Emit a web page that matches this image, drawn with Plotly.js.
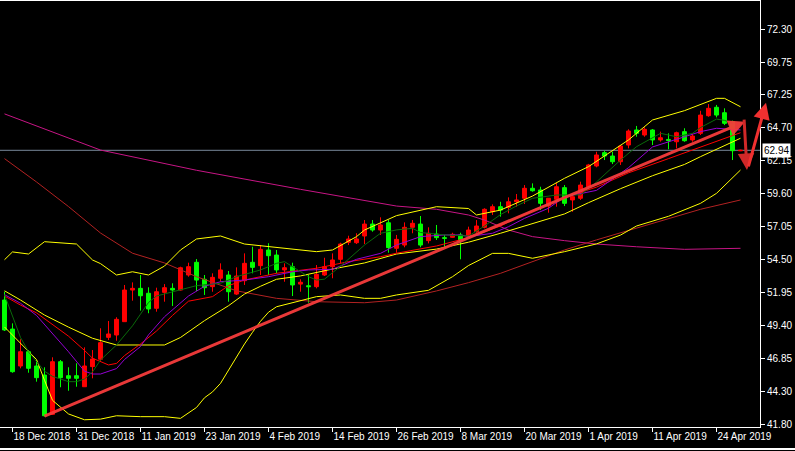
<!DOCTYPE html>
<html>
<head>
<meta charset="utf-8">
<script src="https://cdn.plot.ly/plotly-3.0.1.min.js"></script>
<style>
  html, body { margin: 0; padding: 0; background: #000; }
  #chart { width: 795px; height: 451px; }
</style>
</head>
<body>
<div id="chart"></div>
<script>
// ---- Daily bars (trading dates) ----
const dates = [
  '2018-12-17','2018-12-18','2018-12-19','2018-12-20','2018-12-21','2018-12-24','2018-12-26','2018-12-27','2018-12-28','2018-12-31',
  '2019-01-02','2019-01-03','2019-01-04','2019-01-07','2019-01-08','2019-01-09','2019-01-10','2019-01-11','2019-01-14','2019-01-15',
  '2019-01-16','2019-01-17','2019-01-18','2019-01-21','2019-01-22','2019-01-23','2019-01-24','2019-01-25','2019-01-28','2019-01-29',
  '2019-01-30','2019-01-31','2019-02-01','2019-02-04','2019-02-05','2019-02-06','2019-02-07','2019-02-08','2019-02-11','2019-02-12',
  '2019-02-13','2019-02-14','2019-02-15','2019-02-18','2019-02-19','2019-02-20','2019-02-21','2019-02-22','2019-02-25','2019-02-26',
  '2019-02-27','2019-02-28','2019-03-01','2019-03-04','2019-03-05','2019-03-06','2019-03-07','2019-03-08','2019-03-11','2019-03-12',
  '2019-03-13','2019-03-14','2019-03-15','2019-03-18','2019-03-19','2019-03-20','2019-03-21','2019-03-22','2019-03-25','2019-03-26',
  '2019-03-27','2019-03-28','2019-03-29','2019-04-01','2019-04-02','2019-04-03','2019-04-04','2019-04-05','2019-04-08','2019-04-09',
  '2019-04-10','2019-04-11','2019-04-12','2019-04-15','2019-04-16','2019-04-17','2019-04-18','2019-04-22','2019-04-23','2019-04-24',
  '2019-04-25','2019-04-26','2019-04-29'
];
const openP = [51.39,49.15,46.30,47.40,46.30,45.60,42.57,46.63,45.55,45.55,
  44.70,46.25,46.82,48.51,48.69,49.72,52.16,52.29,51.91,50.75,
  51.98,52.29,52.16,53.32,54.30,52.99,52.42,53.07,53.32,51.85,
  52.88,54.30,54.04,55.25,54.86,53.71,53.96,52.62,52.49,52.42,
  53.32,53.96,54.53,55.84,55.81,56.33,57.25,56.79,57.35,55.38,
  55.63,57.00,57.25,55.97,56.48,56.20,56.23,56.41,56.33,56.66,
  57.00,58.20,58.59,58.54,58.97,59.24,60.01,59.88,58.64,59.16,
  60.06,59.11,59.24,60.13,61.73,62.76,62.50,62.06,63.35,64.51,
  64.12,64.51,63.74,63.78,63.60,64.38,63.74,64.25,65.61,66.26,
  65.84,65.15,62.90];
const highP = [52.03,49.59,48.36,47.53,46.76,46.20,46.97,46.76,46.20,46.51,
  47.74,47.53,49.21,49.77,50.06,52.55,52.75,53.32,52.37,52.34,
  52.62,52.68,53.96,54.27,54.55,53.32,53.45,54.22,53.63,53.91,
  54.99,55.50,55.63,55.77,55.25,54.22,54.27,52.99,53.32,54.09,
  54.65,54.99,55.81,56.35,56.54,57.56,57.56,57.77,57.56,56.41,
  57.38,57.56,57.87,57.00,57.18,56.41,56.58,56.58,57.05,57.56,
  58.47,58.77,58.97,59.31,59.57,60.26,60.39,60.13,59.24,60.44,
  60.26,59.65,60.52,61.89,62.83,62.91,62.83,63.35,64.56,64.82,
  64.72,64.58,64.38,64.25,64.38,64.64,64.25,65.99,66.51,66.44,
  66.18,65.23,62.99];
const lowP = [49.00,45.78,46.12,45.78,45.09,42.39,42.52,44.66,44.39,44.70,
  44.68,45.35,46.63,48.30,48.25,49.72,51.34,50.57,50.37,50.49,
  51.26,50.93,52.11,53.19,52.08,51.78,52.03,52.80,51.26,51.78,
  52.55,53.45,53.32,53.32,53.45,52.80,51.70,52.03,51.18,52.29,
  53.24,53.07,54.22,55.63,55.71,55.71,56.66,56.41,55.04,55.04,
  55.46,56.54,55.46,55.76,56.02,55.50,56.20,54.53,56.28,56.58,
  56.92,57.95,57.82,58.08,58.59,58.80,59.75,58.33,58.13,58.59,
  58.64,58.20,59.11,60.08,61.63,62.19,61.88,61.81,63.09,63.99,
  63.99,63.35,63.61,63.02,63.09,63.60,63.60,64.12,65.53,65.48,
  64.89,62.19,62.88];
const closeP = [49.08,45.86,47.40,46.12,45.40,42.46,46.63,45.40,45.35,45.35,
  46.30,46.84,48.10,48.77,49.90,52.16,52.29,51.72,50.70,52.03,
  52.34,52.16,53.88,53.96,52.93,52.34,53.14,53.71,52.03,53.24,
  54.22,53.91,55.30,54.81,53.71,53.88,52.55,52.76,52.42,53.37,
  53.96,54.48,55.71,56.10,56.10,57.25,56.79,57.18,55.43,56.07,
  57.00,57.31,55.63,56.54,56.20,56.15,56.46,55.97,56.79,57.10,
  58.39,58.59,58.33,58.97,59.11,60.01,59.82,58.85,59.24,60.13,
  58.85,59.36,60.26,61.81,62.58,62.50,62.06,63.27,64.43,64.25,
  64.56,63.74,63.91,63.70,64.30,63.68,64.04,65.66,66.18,65.66,
  65.02,62.91,62.94];

// ---- Indicator lines (bar index, price) ----
const fastMaIdx = [0,1,2,3,5,6,8,9,10,11,12,14,16,17,18,19,21,24,27,29,32,34,35,36,38,39,40,42,45,47,49,51,52,55,58,60,62,64,66,69,72,74,77,79,81,82,84,85,86,87,88,89,90,91];
const fastMaVal = [51.8,50.2,48.5,47.4,45.9,45.5,45.09,45.09,45.3,45.84,46.76,47.92,49.4,50.3,51.2,51.7,52.0,52.5,52.68,53.19,53.71,54.22,54.35,53.96,53.19,52.93,53.0,54.0,55.63,56.54,56.8,56.92,56.6,56.41,56.33,57.1,57.98,58.65,59.24,59.49,59.5,60.5,62.19,63.22,63.87,64.25,63.99,64.1,64.25,64.7,65.0,65.35,65.25,65.02];

const violetMaIdx = [0,2,4,6,8,10,11,12,14,15,17,18,20,23,25,27,30,33,36,38,41,44,47,49,52,55,57,58,61,63,65,68,70,74,78,81,83,87,89,92];
const violetMaVal = [51.8,51.14,50.2,48.8,47.4,45.9,45.68,45.68,46.1,46.8,47.8,48.7,50.1,51.7,52.45,52.8,52.93,53.19,53.57,53.71,53.76,54.53,54.99,55.63,56.28,56.41,56.41,56.28,56.54,57.05,57.69,58.47,59.35,59.85,61.6,63.2,63.6,64.38,64.64,64.51];

const redMaIdx = [0,2,4,6,8,10,11,13,14,15,17,19,21,23,26,28,30,34,39,43,47,49,54,58,62,66,70,74,78,83,87,92];
const redMaVal = [51.7,51.0,50.4,49.5,48.6,47.5,46.9,46.38,46.5,47.1,48.0,49.0,50.2,51.3,51.65,52.5,52.93,53.45,53.84,54.35,54.73,55.0,55.56,56.2,57.1,58.3,59.3,60.1,61.2,62.3,63.2,64.3];

const brownMaIdx = [0,4,8,12,16,20,24,29,34,39,45,49,54,58,62,66,70,74,79,83,87,92];
const brownMaVal = [62.3,60.5,58.6,56.56,55.0,54.25,53.19,52.1,51.52,51.26,51.18,51.39,52.09,52.73,53.45,54.35,55.25,56.03,56.92,57.69,58.39,59.11];

const slowMaIdx = [0,12,24,37,49,54,58,60,63,66,70,74,79,85,92];
const slowMaVal = [65.75,62.96,61.4,59.93,58.64,58.39,57.95,57.56,56.79,56.28,55.97,55.71,55.50,55.30,55.38];

const bbUpperIdx = [0,1,3,5,9,11,12,14,16,18,20,22,24,27,30,35,39,41,44,45,49,54,58,59,62,66,70,73,78,81,85,89,90,92];
const bbUpperVal = [54.5,55.1,54.94,55.89,55.71,54.48,54.2,53.32,53.57,53.32,54.01,55.25,56.10,56.33,55.71,55.38,55.12,55.25,56.28,56.79,57.9,58.59,58.45,57.95,58.33,59.41,60.78,61.68,63.74,65.28,66.0,66.95,66.95,66.3];

const bbMidIdx = [0,2,5,8,11,14,17,20,22,25,28,30,32,34,37,41,45,49,54,58,62,66,70,73,77,81,85,87,89,92];
const bbMidVal = [52.1,51.39,50.23,49.3,48.44,47.92,47.92,47.92,48.5,49.8,50.95,51.85,52.45,52.99,53.25,53.78,54.25,54.94,55.32,55.85,56.54,57.31,58.03,58.9,59.98,60.98,61.85,62.45,63.02,63.87];

const bbLowerIdx = [0,4,5,6,8,10,12,14,17,20,22,24,25,26,27,28,29,30,31,32,33,34,39,42,45,47,49,53,56,58,61,63,66,68,70,74,77,79,83,87,89,92];
const bbLowerVal = [49.31,46.8,45.2,43.65,42.6,42.15,42.2,42.46,42.39,42.39,42.26,43.1,43.85,44.3,44.96,46.0,47.0,48.0,48.9,49.75,50.45,50.87,51.65,51.78,51.52,51.52,51.78,52.14,53.19,54.05,54.99,54.99,54.61,54.86,55.12,55.72,56.4,57.1,57.85,58.85,59.62,61.42];

// ---- Drawn objects ----
const bidPrice = 62.94;
const trendX = [4.81, 92.56];
const trendY = [42.39, 65.15];
const zigX = [92.44, 92.81, 92.94, 95.19];
const zigY = [65.43, 61.42, 61.58, 66.61];

// ---- Axis labels ----
const yTicks = [72.30, 69.75, 67.25, 64.70, 62.15, 59.60, 57.05, 54.50, 51.95, 49.40, 46.85, 44.30, 41.80];
const xLabelDates = ['2018-12-18','2018-12-31','2019-01-11','2019-01-23','2019-02-04','2019-02-14','2019-02-26','2019-03-08','2019-03-20','2019-04-01','2019-04-11','2019-04-24'];
const xLabelText = ['18 Dec 2018','31 Dec 2018','11 Jan 2019','23 Jan 2019','4 Feb 2019','14 Feb 2019','26 Feb 2019','8 Mar 2019','20 Mar 2019','1 Apr 2019','11 Apr 2019','24 Apr 2019'];

const barIdx = dates.map((d, i) => i);
const xTickVals = xLabelDates.map(d => dates.indexOf(d));

function lineTrace(xs, ys, color) {
  return { type: 'scatter', mode: 'lines', x: xs, y: ys, line: { color: color, width: 1 }, hoverinfo: 'skip' };
}

const traces = [
  lineTrace(slowMaIdx, slowMaVal, '#C71585'),
  lineTrace(brownMaIdx, brownMaVal, '#B22222'),
  lineTrace(bbUpperIdx, bbUpperVal, '#FFFF00'),
  lineTrace(bbMidIdx, bbMidVal, '#FFFF00'),
  lineTrace(bbLowerIdx, bbLowerVal, '#FFFF00'),
  lineTrace(redMaIdx, redMaVal, '#FF0000'),
  lineTrace(violetMaIdx, violetMaVal, '#9400D3'),
  lineTrace(fastMaIdx, fastMaVal, '#0A6A0A'),
  {
    type: 'candlestick', x: barIdx, open: openP, high: highP, low: lowP, close: closeP,
    increasing: { line: { color: '#FF0000', width: 1 }, fillcolor: '#FF0000' },
    decreasing: { line: { color: '#00FF00', width: 1 }, fillcolor: '#00FF00' },
    whiskerwidth: 0, hoverinfo: 'skip'
  }
];

const font = { family: 'Liberation Sans, Arial, sans-serif', size: 10, color: '#FFFFFF' };

const layout = {
  width: 795, height: 451,
  margin: { l: 0, r: 35, t: 1, b: 24, pad: 0 },
  paper_bgcolor: '#000000', plot_bgcolor: '#000000',
  showlegend: false, hovermode: false,
  xaxis: {
    range: [-0.5625, 94.4375], showgrid: false, zeroline: false,
    showline: true, linecolor: '#FFFFFF', linewidth: 1, mirror: true,
    ticks: 'outside', ticklen: 4, tickcolor: '#FFFFFF', tickwidth: 1,
    tickvals: xTickVals, ticktext: xLabelText, tickfont: font,
    ticklabelposition: 'outside right', tickangle: 0,
    rangeslider: { visible: false }, fixedrange: true
  },
  yaxis: {
    side: 'right', range: [41.593, 74.46], showgrid: false, zeroline: false,
    showline: true, linecolor: '#FFFFFF', linewidth: 1,
    ticks: 'outside', ticklen: 4, tickcolor: '#FFFFFF',
    tickvals: yTicks, ticktext: yTicks.map(v => v.toFixed(2)), tickfont: font,
    fixedrange: true
  },
  shapes: [
    { type: 'line', xref: 'paper', x0: 0, x1: 1, yref: 'y', y0: bidPrice, y1: bidPrice,
      line: { color: '#778899', width: 1 }, layer: 'below' },
    { type: 'line', xref: 'paper', x0: -0.01, x1: 1.05, yref: 'paper', y0: -0.0516, y1: -0.0516,
      line: { color: '#FFFFFF', width: 2 } }
  ],
  annotations: [
    { xref: 'x', yref: 'y', axref: 'x', ayref: 'y', x: trendX[1], y: trendY[1], ax: trendX[0], ay: trendY[0],
      text: '', showarrow: true, arrowhead: 2, arrowsize: 1.1, arrowwidth: 3, arrowcolor: 'rgba(245,60,60,0.95)', standoff: 0 },
    { xref: 'x', yref: 'y', axref: 'x', ayref: 'y', x: zigX[1], y: zigY[1], ax: zigX[0], ay: zigY[0],
      text: '', showarrow: true, arrowhead: 2, arrowsize: 1.1, arrowwidth: 3, arrowcolor: '#D02828', standoff: 0 },
    { xref: 'x', yref: 'y', axref: 'x', ayref: 'y', x: zigX[3], y: zigY[3], ax: zigX[2], ay: zigY[2],
      text: '', showarrow: true, arrowhead: 2, arrowsize: 1.1, arrowwidth: 3, arrowcolor: '#F03030', standoff: 0 },
    { xref: 'paper', yref: 'y', x: 1, y: bidPrice, xanchor: 'left', yanchor: 'middle', xshift: 2,
      text: bidPrice.toFixed(2), showarrow: false, bgcolor: '#FFFFFF', borderpad: 1,
      font: { family: 'Liberation Sans, Arial, sans-serif', size: 10, color: '#000000' } }
  ]
};

Plotly.newPlot('chart', traces, layout, { staticPlot: true, displayModeBar: false });
</script>
</body>
</html>
